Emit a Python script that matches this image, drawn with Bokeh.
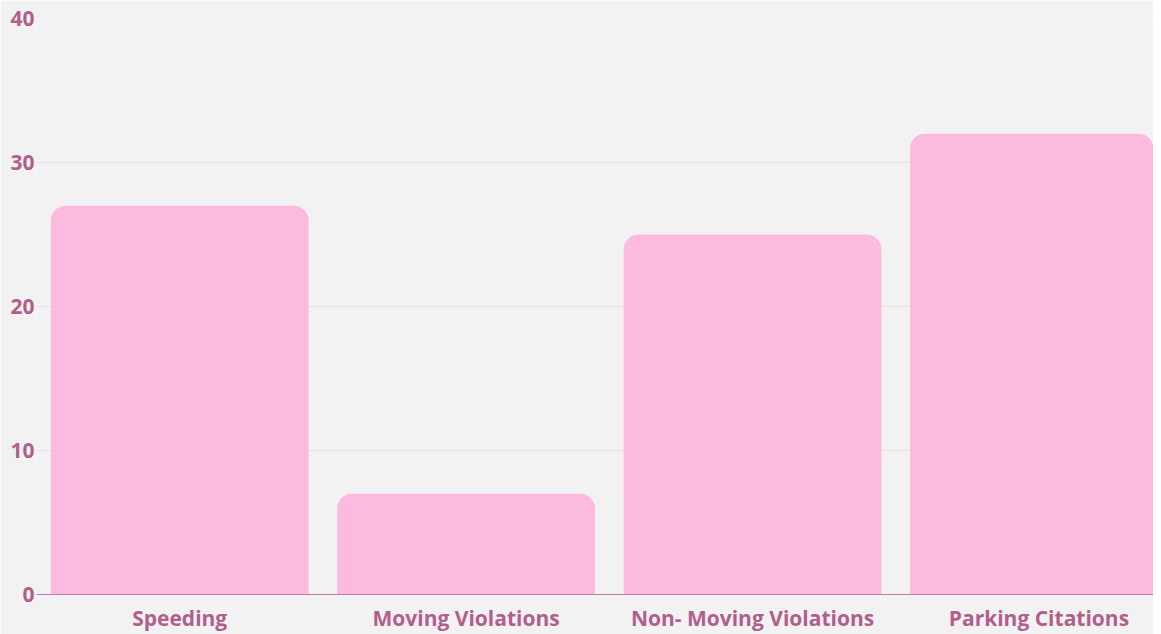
from bokeh.plotting import figure
from bokeh.models import Range1d, FixedTicker
from bokeh.embed import file_html
from bokeh.resources import INLINE

categories = ["Speeding", "Moving Violations", "Non- Moving Violations", "Parking Citations"]
values = [27, 7, 25, 32]
y_ticks = [0, 10, 20, 30, 40]

xs = list(range(len(categories)))

p = figure(frame_width=1117, frame_height=576, output_backend="svg", toolbar_location=None,
           x_range=Range1d(-0.5, 3.40), y_range=Range1d(0, 40),
           min_border_left=36, min_border_top=18, min_border_right=0, min_border_bottom=0)

bg = "#f3f2f3"
p.background_fill_color = bg
p.border_fill_color = bg
p.outline_line_color = None

p.vbar(x=xs, top=values, width=0.9, bottom=0, fill_color="#fcbadf", line_color=None,
       border_radius=(15, 15, 0, 0))

label_color = "#b25e8c"
p.yaxis.ticker = FixedTicker(ticks=y_ticks)
p.yaxis.axis_line_color = None
p.yaxis.major_tick_line_color = None
p.yaxis.minor_tick_line_color = None
p.yaxis.major_tick_in = 0
p.yaxis.major_tick_out = 0
p.yaxis.minor_tick_in = 0
p.yaxis.minor_tick_out = 0
p.yaxis.major_label_standoff = 2
p.yaxis.major_label_text_font = "Open Sans"
p.yaxis.major_label_text_font_style = "bold"
p.yaxis.major_label_text_font_size = "21px"
p.yaxis.major_label_text_color = label_color

p.xaxis.ticker = FixedTicker(ticks=xs)
p.xaxis.major_label_overrides = {i: c for i, c in enumerate(categories)}
p.xaxis.axis_line_color = "#c27a9f"
p.xaxis.axis_line_width = 1
p.xaxis.major_tick_line_color = None
p.xaxis.minor_tick_line_color = None
p.xaxis.major_tick_in = 0
p.xaxis.major_tick_out = 0
p.xaxis.minor_tick_in = 0
p.xaxis.minor_tick_out = 0
p.xaxis.major_label_standoff = 9
p.xaxis.major_label_text_font = "Open Sans"
p.xaxis.major_label_text_font_style = "bold"
p.xaxis.major_label_text_font_size = "21px"
p.xaxis.major_label_text_color = label_color

p.xgrid.grid_line_color = None
p.ygrid.grid_line_color = "#ecdde4"
p.ygrid.grid_line_width = 1

open("out.html", "w").write(file_html(p, INLINE))
